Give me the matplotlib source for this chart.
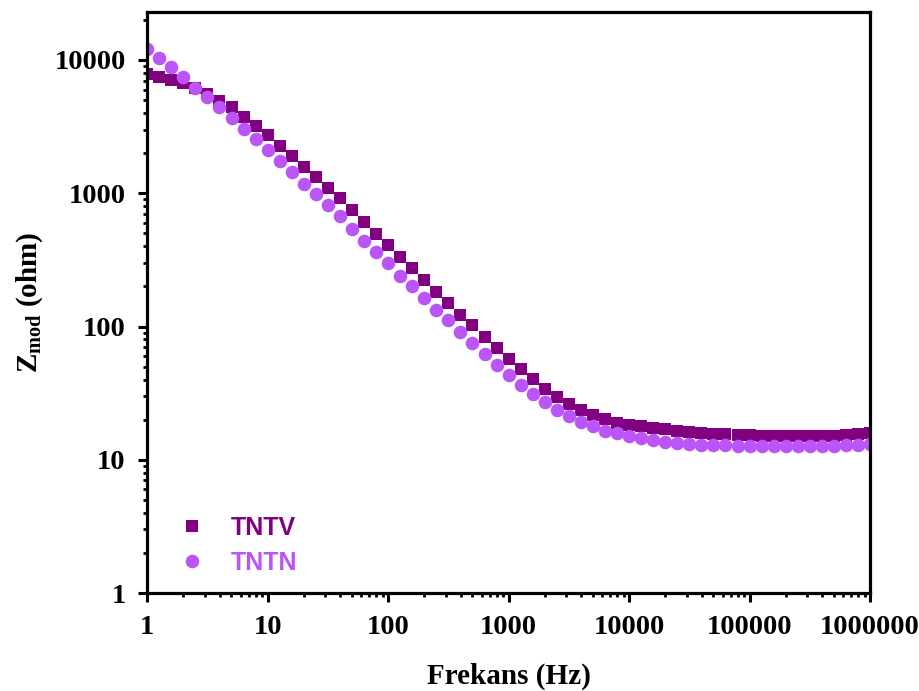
import numpy as np
import matplotlib
matplotlib.use("Agg")
import matplotlib.pyplot as plt
from matplotlib.ticker import LogLocator, NullFormatter, FixedLocator, FixedFormatter

# Frequency: 10 points per decade from 1 Hz to 1 MHz
freq = 10 ** (np.arange(61) / 10.0)

tntv = [7820, 7410, 7080, 6680, 6160, 5560, 4950, 4420, 3760, 3200,
        2720, 2280, 1910, 1580, 1330, 1100, 915, 745, 607, 498,
        410, 334, 274, 224, 183, 151, 122, 102, 84, 68.7,
        56.9, 47.9, 40.3, 34.0, 29.5, 26.1, 23.7, 21.7, 20.2, 19.0,
        18.3, 17.8, 17.3, 16.9, 16.5, 16.2, 15.9, 15.7, 15.5, 15.4,
        15.3, 15.2, 15.1, 15.1, 15.1, 15.1, 15.2, 15.2, 15.3, 15.5, 15.8]

tntn = [12100, 10400, 8900, 7400, 6200, 5250, 4420, 3690, 3050, 2540,
        2110, 1760, 1450, 1180, 985, 812, 676, 543, 441, 361,
        298, 241, 200, 163, 133, 111, 90.6, 75, 62.2, 51.5,
        43.4, 36.5, 31.2, 27.0, 23.7, 21.3, 19.3, 17.8, 16.5, 15.8,
        15.1, 14.5, 14.1, 13.7, 13.3, 13.2, 12.9, 12.8, 12.8, 12.7,
        12.7, 12.6, 12.6, 12.6, 12.6, 12.6, 12.7, 12.7, 12.8, 12.9, 13.1]

labels = ["TNTV", "TNTN"]
colors = ["#800080", "#BB55F7"]

xticks = [1, 10, 100, 1000, 10000, 100000, 1000000]
xticklabels = ["1", "10", "100", "1000", "10000", "100000", "1000000"]
yticks = [1, 10, 100, 1000, 10000]
yticklabels = ["1", "10", "100", "1000", "10000"]

plt.rcParams['mathtext.fontset'] = 'custom'
plt.rcParams['mathtext.bf'] = 'Liberation Serif:bold'
plt.rcParams['mathtext.rm'] = 'Liberation Serif:bold'

fig = plt.figure(figsize=(9.2, 6.91), dpi=100)
ax = fig.add_axes([0.16, 0.1418, 0.7857, 0.8408])

ax.plot(freq, tntv, linestyle='none', marker='s', markersize=9.2,
        color=colors[0], label=labels[0], markeredgewidth=0)
ax.plot(freq, tntn, linestyle='none', marker='o', markersize=9.8,
        color=colors[1], label=labels[1], markeredgewidth=0)

ax.set_xscale('log')
ax.set_yscale('log')
ax.set_xlim(1, 1e6)
ax.set_ylim(1, 10 ** 4.36)

ax.xaxis.set_major_locator(FixedLocator(xticks))
ax.xaxis.set_major_formatter(FixedFormatter(xticklabels))
ax.yaxis.set_major_locator(FixedLocator(yticks))
ax.yaxis.set_major_formatter(FixedFormatter(yticklabels))
ax.xaxis.set_minor_locator(LogLocator(base=10, subs=np.arange(2, 10), numticks=20))
ax.yaxis.set_minor_locator(LogLocator(base=10, subs=np.arange(2, 10), numticks=20))
ax.xaxis.set_minor_formatter(NullFormatter())
ax.yaxis.set_minor_formatter(NullFormatter())

for s in ax.spines.values():
    s.set_linewidth(2.3)

ax.tick_params(which='major', direction='out', length=6.5, width=2.2,
               top=False, right=False)
ax.tick_params(axis='x', which='major', pad=9)
ax.tick_params(axis='y', which='major', pad=9)
ax.tick_params(which='minor', direction='out', length=3.2, width=2,
               top=False, right=False)
for lbl in ax.get_xticklabels() + ax.get_yticklabels():
    lbl.set_fontfamily('Liberation Serif')
    lbl.set_fontweight('bold')
    lbl.set_fontsize(20.5)

ax.set_xlabel("Frekans (Hz)", fontfamily='Liberation Serif', fontweight='bold',
              fontsize=21, labelpad=16.5)
ax.set_ylabel(r"$\mathbf{Z_{mod}}$ (ohm)", fontfamily='Liberation Serif',
              fontweight='bold', fontsize=21, labelpad=7)

leg = ax.legend(loc='lower left', bbox_to_anchor=(0.0277, 0.031), frameon=False,
                prop={'family': 'Liberation Sans', 'weight': 'bold', 'size': 18},
                handlelength=2.0, handletextpad=0.56, labelspacing=0.45,
                borderaxespad=0, borderpad=0)
for txt, c in zip(leg.get_texts(), colors):
    txt.set_color(c)

fig.savefig("out.png", dpi=100)
